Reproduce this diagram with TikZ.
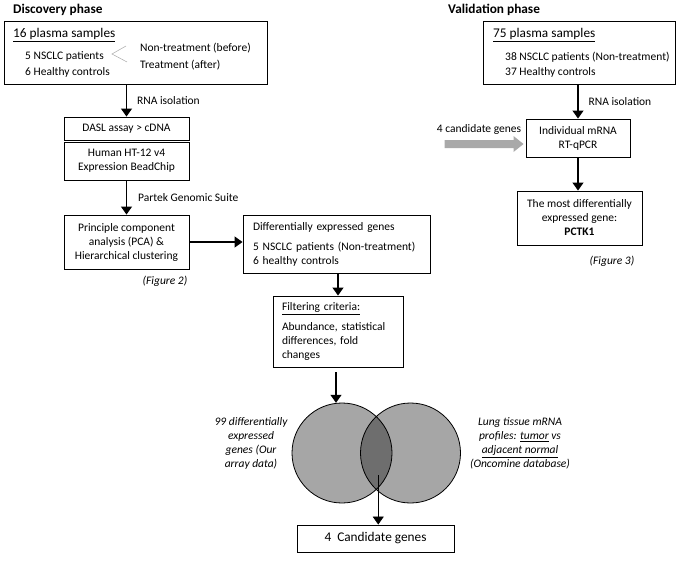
\documentclass[tikz,border=0pt]{standalone}
\usepackage{fontspec}
\setmainfont{Carlito}
\usepackage{tikz}
\usetikzlibrary{arrows.meta,positioning,calc}
\definecolor{venngray}{HTML}{A6A6A6}
\definecolor{venndark}{HTML}{6E6E6E}
\definecolor{fatgray}{HTML}{A9A9A9}
\tikzset{
  box/.style={draw, line width=0.9pt, inner sep=0pt, align=center},
  txt/.style={inner sep=0pt, anchor=west, align=left},
  big/.style={font=\fontsize{13.3}{16}\selectfont},
  phase/.style={inner sep=0pt, anchor=west, font=\fontsize{13.3}{16}\selectfont\bfseries},
  note/.style={inner sep=0pt, align=center, font=\fontsize{11.5}{14}\selectfont\itshape},
  flow/.style={line width=1.2pt, -{Triangle[width=11pt,length=8pt]}},
  venn/.style={circle, minimum size=100pt, inner sep=0pt, fill=venngray},
}

\begin{document}
\begin{tikzpicture}[x=1pt, y=-1pt, every node/.append style={font=\fontsize{11.5}{14}\selectfont}]
\useasboundingbox (0,0) rectangle (677,562);

\node[phase] (disc) at (13,10) {Discovery phase};
\node[box, minimum width=263pt, minimum height=63pt] (s16) at (135.5,52.5) {};
\node[txt, big] (t16) at (13,35) {\underline{16 plasma samples}};
\node[txt] (n5) at (25,56) {5 NSCLC patients};
\node[txt] (h6) at (25,72) {6 Healthy controls};
\node[txt] (ntr) at (140,48) {Non-treatment (before)};
\node[txt] (tr) at (140,65) {Treatment (after)};
\draw[gray!70, line width=0.5pt] ([xshift=-14pt,yshift=2pt]ntr.west) -- ([xshift=8pt,yshift=2pt]n5.east) -- ([xshift=-13pt,yshift=3pt]tr.west);

\node[box, minimum width=125pt, minimum height=23.5pt] (dasl) at (126.5,128.75) {DASL assay > cDNA};
\node[box, minimum width=125pt, minimum height=38pt] (chip) at (126.5,161) {Human HT-12 v4\\Expression BeadChip};
\node[box, minimum width=125pt, minimum height=54pt] (pca) at (126.5,242) {Principle component\\analysis (PCA) \&\\Hierarchical clustering};
\node[note] (fig2) at (165,281) {(Figure 2)};
\node[box, minimum height=58pt, inner xsep=10pt, text width=167pt, align=left] (deg) at (336.5,244) {Differentially expressed genes\\[6pt]5 NSCLC patients (Non-treatment)\\6 healthy controls};
\node[box, minimum height=71pt, inner xsep=9pt, text width=112pt, align=left] (filt) at (338,331.5) {\underline{Filtering criteria:}\\[6pt]Abundance, statistical\\differences, fold\\changes};

\node[venn] (lc) at (342,453) {};
\node[venn] (rc) at (410.5,453) {};
\begin{scope}
  \clip (lc.center) circle (50pt);
  \fill[venndark] (rc.center) circle (50pt);
\end{scope}
\draw[line width=0.8pt] (lc.center) circle (50pt) (rc.center) circle (50pt);
\node[note] (ours) at (251,443.5) {99 differentially\\expressed\\genes (Our\\array data)};
\node[note] (onco) at (520,443.5) {Lung tissue mRNA\\profiles: \underline{tumor} vs\\\underline{adjacent normal}\\(Oncomine database)};
\coordinate (core) at ($(lc.center)!0.5!(rc.center)+(2,22)$);
\node[box, big, minimum width=157pt, minimum height=27pt] (cand) at (375.5,538.5) {4\ \ Candidate genes};

\draw[flow] (s16.south -| dasl.north) -- node[txt, right=10pt] (rna1) {RNA isolation} (dasl.north);
\draw[flow] (chip.south) -- node[txt, right=11pt] (partek) {Partek Genomic Suite} (pca.north);
\draw[flow] (pca.east) -- (pca.east -| deg.west);
\draw[flow] (deg.south -| filt.north) -- (filt.north);
\draw[flow, shorten <=5pt] ([xshift=-2pt]filt.south) -- ([xshift=-2pt]filt.south |- lc.north);
\draw[flow, line width=0.8pt] (core) -- (core |- cand.north);

\node[phase] (valid) at (448,10) {Validation phase};
\node[box, minimum width=192pt, minimum height=63pt] (s75) at (579,52.5) {};
\node[txt, big] (t75) at (493,35) {\underline{75 plasma samples}};
\node[txt] (n38) at (505,57.5) {38 NSCLC patients (Non-treatment)};
\node[txt] (h37) at (505,72) {37 Healthy controls};
\node[box, minimum width=104pt, minimum height=38pt] (qpcr) at (578,138) {Individual mRNA\\RT-qPCR};
\node[box, minimum width=125pt, minimum height=54pt] (best) at (579.5,218) {The most differentially\\expressed gene:\\\textbf{PCTK1}};
\node[note] (fig3) at (612,261) {(Figure 3)};
\node[inner sep=0pt] (cg) at (479,129) {4 candidate genes};
\coordinate (ga) at ([xshift=8pt,yshift=-15pt]cg.west);
\coordinate (gb) at ([xshift=-2pt]qpcr.west |- ga);
\fill[fatgray] ([yshift=4pt]ga) -- ([xshift=-10pt,yshift=4pt]gb) -- ([xshift=-10pt,yshift=8pt]gb) -- (gb)
  -- ([xshift=-10pt,yshift=-8pt]gb) -- ([xshift=-10pt,yshift=-4pt]gb) -- ([yshift=-4pt]ga) -- cycle;

\draw[flow] (s75.south -| qpcr.north) -- node[txt, right=10pt] (rna2) {RNA isolation} (qpcr.north);
\draw[flow] (qpcr.south) -- (qpcr.south |- best.north);
\end{tikzpicture}
\end{document}
